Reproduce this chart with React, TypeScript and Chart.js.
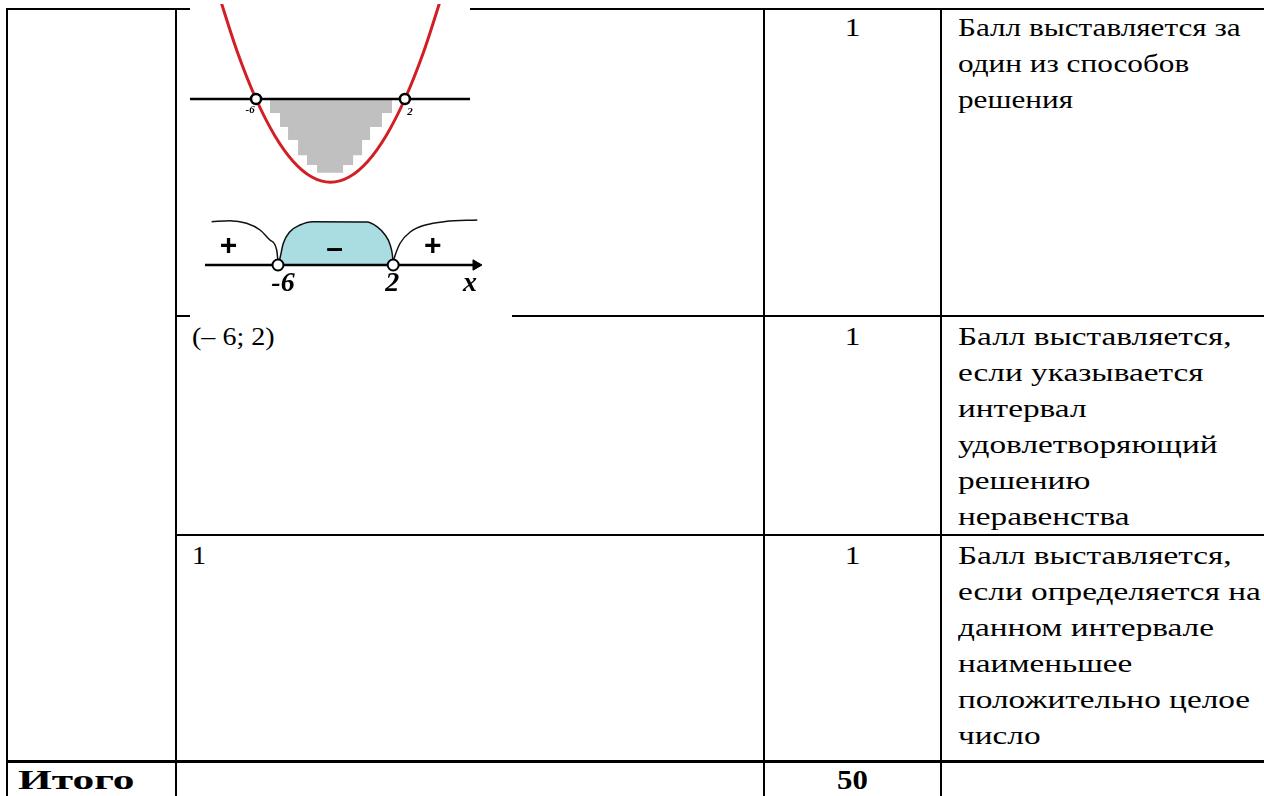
import React, { useEffect, useRef } from "react";
import { Chart, registerables } from "chart.js";

Chart.register(...registerables);

// ---------- Parabola figure (y = x^2 + 4x - 12) ----------
const PARABOLA_X = [-8, -7, -6, -5, -4, -3, -2, -1, 0, 1, 2, 3, 4];
const PARABOLA_Y = [20, 9, 0, -7, -12, -15, -16, -15, -12, -7, 0, 9, 20];
const ROOTS = [-6, 2];
const PARABOLA_ROOT_LABELS = ["-6", "2"];
const PARABOLA_LABEL_X = [-6.32, 2.28];
const PARABOLA_LABEL_Y = [-2.1, -2.5];
const SHADE_X = [-5.25, -5.25, -4.71, -4.28, -3.74, -3.26, -2.72, -1.32, -0.78, -0.3, 0.13, 0.77, 1.31];
const SHADE_Y = [0, -2.7, -5.4, -7.9, -10.8, -12.7, -14.2, -12.7, -10.8, -7.9, -5.4, -2.7, 0];
const PARABOLA_AXIS_X = [-9.6, 5.6];

// ---------- Sign chart ----------
const SIGN_LEFT_X = [-10.61, -9.34, -8.18, -7.25, -6.56, -6.09, -6.0];
const SIGN_LEFT_Y = [4.33, 4.43, 4.17, 3.5, 2.5, 1.5, 0.3];
const SIGN_MID_X = [-6, -5.86, -5.63, -5.17, -4.47, -3.57, 0.17, 0.87, 1.44, 1.79, 1.97, 2.0];
const SIGN_MID_Y = [0, 0.7, 2.17, 3.33, 4.0, 4.33, 4.3, 3.83, 3.0, 2.0, 0.7, 0];
const SIGN_RIGHT_X = [2.0, 2.14, 2.49, 3.18, 4.23, 5.62, 7.84];
const SIGN_RIGHT_Y = [0.3, 1.0, 2.2, 3.3, 4.0, 4.35, 4.5];
const SIGN_AXIS_X = [-11.07, 7.75];
const SIGN_SYMBOLS = ["+", "–", "+"];
const SIGN_SYMBOL_X = [-9.44, -2.07, 4.75];
const SIGN_SYMBOL_Y = [1.8, 1.5, 1.8];
const SIGN_AXIS_LABELS = ["-6", "2", "x"];
const SIGN_AXIS_LABEL_X = [-5.65, 1.93, 7.33];
const SIGN_AXIS_LABEL_Y = [-1.85, -1.85, -1.85];

// ---------- Table content ----------
const ROW_POINTS = ["1", "1", "1"];
const ROW_ANSWERS = ["", "(– 6; 2)", "1"];
const ROW_CRITERIA = [
  ["Балл выставляется за", "один из способов", "решения"],
  ["Балл выставляется,", "если указывается", "интервал", "удовлетворяющий", "решению", "неравенства"],
  ["Балл выставляется,", "если определяется на", "данном интервале", "наименьшее", "положительно целое", "число"],
];
const TOTAL_LABEL = "Итого";
const TOTAL_POINTS = "50";

const pts = (xs: number[], ys: number[]) => xs.map((x, i) => ({ x, y: ys[i] }));

const SERIF = '"Liberation Serif", "Times New Roman", serif';

function textPlugin(draw: (chart: any) => void) {
  return {
    id: "texts",
    afterDatasetsDraw(chart: any) {
      draw(chart);
    },
  };
}

const baseOptions = {
  animation: false,
  responsive: false,
  devicePixelRatio: 1,
  events: [],
  layout: { padding: 0, autoPadding: false },
  plugins: { legend: { display: false }, tooltip: { enabled: false } },
};

function ParabolaChart() {
  const ref = useRef<HTMLCanvasElement>(null);
  useEffect(() => {
    const chart = new Chart(ref.current!, {
      type: "line",
      data: {
        datasets: [
          {
            data: pts(ROOTS, ROOTS.map(() => 0)),
            showLine: false,
            pointRadius: 5,
            pointBackgroundColor: "#ffffff",
            pointBorderColor: "#000000",
            pointBorderWidth: 2.5,
            order: 0,
          } as any,
          {
            data: pts(PARABOLA_X, PARABOLA_Y),
            borderColor: "#d21f26",
            borderWidth: 3,
            pointRadius: 0,
            cubicInterpolationMode: "monotone",
            order: 1,
          },
          {
            data: pts(PARABOLA_AXIS_X, [0, 0]),
            borderColor: "#000000",
            borderWidth: 2.5,
            pointRadius: 0,
            order: 2,
          },
          {
            data: pts(SHADE_X, SHADE_Y),
            borderWidth: 0,
            borderColor: "rgba(0,0,0,0)",
            backgroundColor: "#c0c0c0",
            fill: "origin",
            stepped: "before",
            pointRadius: 0,
            order: 3,
          },
        ],
      },
      options: {
        ...(baseOptions as any),
        scales: {
          x: { type: "linear", min: -9.55, max: 5.5, display: false },
          y: { type: "linear", min: -19.42, max: 18.27, display: false },
        },
      },
      plugins: [
        textPlugin((c) => {
          const ctx = c.ctx;
          ctx.save();
          ctx.fillStyle = "#000";
          ctx.font = `italic bold 11px ${SERIF}`;
          ctx.textAlign = "center";
          ctx.textBaseline = "middle";
          PARABOLA_ROOT_LABELS.forEach((t, i) => {
            ctx.fillText(t, c.scales.x.getPixelForValue(PARABOLA_LABEL_X[i]), c.scales.y.getPixelForValue(PARABOLA_LABEL_Y[i]));
          });
          ctx.restore();
        }),
      ],
    });
    return () => chart.destroy();
  }, []);
  return (
    <canvas
      ref={ref}
      width={280}
      height={196}
      style={{ position: "absolute", left: 190, top: 4, width: 280, height: 196, background: "#ffffff", zIndex: 2 }}
    />
  );
}

function SignChart() {
  const ref = useRef<HTMLCanvasElement>(null);
  useEffect(() => {
    const chart = new Chart(ref.current!, {
      type: "line",
      data: {
        datasets: [
          {
            data: pts(ROOTS, ROOTS.map(() => 0)),
            showLine: false,
            pointRadius: 5.5,
            pointBackgroundColor: "#ffffff",
            pointBorderColor: "#000000",
            pointBorderWidth: 2,
            order: 0,
          } as any,
          {
            data: pts(SIGN_AXIS_X, [0, 0]),
            borderColor: "#000000",
            borderWidth: 2.5,
            pointRadius: [0, 6],
            pointStyle: "triangle",
            pointRotation: 90,
            pointBackgroundColor: "#000000",
            pointBorderColor: "#000000",
            pointBorderWidth: 1,
            order: 1,
          },
          {
            data: pts(SIGN_LEFT_X, SIGN_LEFT_Y),
            borderColor: "#111111",
            borderWidth: 1.5,
            pointRadius: 0,
            cubicInterpolationMode: "monotone",
            order: 2,
          },
          {
            data: pts(SIGN_RIGHT_X, SIGN_RIGHT_Y),
            borderColor: "#111111",
            borderWidth: 1.5,
            pointRadius: 0,
            cubicInterpolationMode: "monotone",
            order: 2,
          },
          {
            data: pts(SIGN_MID_X, SIGN_MID_Y),
            borderColor: "#111111",
            borderWidth: 1.5,
            backgroundColor: "#a9dde2",
            fill: "origin",
            pointRadius: 0,
            cubicInterpolationMode: "monotone",
            order: 3,
          },
        ],
      },
      options: {
        ...(baseOptions as any),
        scales: {
          x: { type: "linear", min: -12.11, max: 10.25, display: false },
          y: { type: "linear", min: -5.7, max: 6.5, display: false },
        },
      },
      plugins: [
        textPlugin((c) => {
          const ctx = c.ctx;
          const sx = c.scales.x;
          const sy = c.scales.y;
          ctx.save();
          ctx.fillStyle = "#000";
          ctx.textAlign = "center";
          ctx.textBaseline = "middle";
          ctx.font = `bold 30px "Liberation Sans", Arial, sans-serif`;
          SIGN_SYMBOLS.forEach((t, i) => {
            ctx.fillText(t, sx.getPixelForValue(SIGN_SYMBOL_X[i]), sy.getPixelForValue(SIGN_SYMBOL_Y[i]));
          });
          ctx.font = `italic bold 28px ${SERIF}`;
          SIGN_AXIS_LABELS.forEach((t, i) => {
            ctx.fillText(t, sx.getPixelForValue(SIGN_AXIS_LABEL_X[i]), sy.getPixelForValue(SIGN_AXIS_LABEL_Y[i]));
          });
          ctx.restore();
        }),
      ],
    });
    return () => chart.destroy();
  }, []);
  return (
    <canvas
      ref={ref}
      width={322}
      height={122}
      style={{ position: "absolute", left: 190, top: 200, width: 322, height: 122, background: "#ffffff", zIndex: 2 }}
    />
  );
}

const FONT_SIZE = 26;
const LINE_H = 36;

function Line({ x, y, w, h }: { x: number; y: number; w: number; h: number }) {
  return <div style={{ position: "absolute", left: x, top: y, width: w, height: h, background: "#000" }} />;
}

function TextBlock({
  x,
  y,
  lines,
  bold,
  sx = 1.2,
  size = FONT_SIZE,
}: {
  x: number;
  y: number;
  lines: string[];
  bold?: boolean;
  sx?: number;
  size?: number;
}) {
  return (
    <div
      style={{
        position: "absolute",
        left: x,
        top: y,
        whiteSpace: "nowrap",
        transform: `scaleX(${sx})`,
        transformOrigin: "left top",
        fontWeight: bold ? "bold" : "normal",
        fontSize: size,
      }}
    >
      {lines.map((l, i) => (
        <div key={i}>{l}</div>
      ))}
    </div>
  );
}

function CenterText({
  x,
  w,
  y,
  text,
  bold,
  sx = 1.2,
  size = FONT_SIZE,
}: {
  x: number;
  w: number;
  y: number;
  text: string;
  bold?: boolean;
  sx?: number;
  size?: number;
}) {
  return (
    <div
      style={{
        position: "absolute",
        left: x,
        top: y,
        width: w,
        textAlign: "center",
        transform: `scaleX(${sx})`,
        transformOrigin: "center top",
        fontWeight: bold ? "bold" : "normal",
        fontSize: size,
      }}
    >
      {text}
    </div>
  );
}

export default function App() {
  const rowTops = [10, 319, 538];
  const totalTop = 762;
  const colX = [6, 175, 763, 940];
  return (
    <div
      style={{
        position: "absolute",
        left: 0,
        top: 0,
        width: 1264,
        height: 796,
        overflow: "hidden",
        background: "#fff",
        fontFamily: SERIF,
        fontSize: FONT_SIZE,
        lineHeight: `${LINE_H}px`,
        color: "#000",
      }}
    >
      {/* grid lines */}
      <Line x={6} y={8} w={1258} h={2} />
      <Line x={6} y={8} w={2} h={788} />
      <Line x={175} y={8} w={2} h={788} />
      <Line x={763} y={8} w={2} h={788} />
      <Line x={940} y={8} w={2} h={788} />
      <Line x={175} y={315} w={1089} h={2} />
      <Line x={175} y={534} w={1089} h={2} />
      <Line x={6} y={760} w={1258} h={3} />

      <ParabolaChart />
      <SignChart />

      {ROW_POINTS.map((p, i) => (
        <CenterText key={"p" + i} x={colX[2] + 2} w={colX[3] - colX[2] - 2} y={rowTops[i]} text={p} />
      ))}
      {ROW_ANSWERS.map((a, i) =>
        a ? <TextBlock key={"a" + i} x={192} y={rowTops[i]} lines={[a]} sx={1.08} /> : null
      )}
      {ROW_CRITERIA.map((lines, i) => (
        <TextBlock key={"c" + i} x={958} y={rowTops[i]} lines={lines} sx={i === 0 ? 1.2 : 1.28} />
      ))}
      <TextBlock x={18} y={totalTop} lines={[TOTAL_LABEL]} bold size={28} sx={1.55} />
      <CenterText x={colX[2] + 2} w={colX[3] - colX[2] - 2} y={totalTop} text={TOTAL_POINTS} bold size={28} sx={1.1} />
    </div>
  );
}
